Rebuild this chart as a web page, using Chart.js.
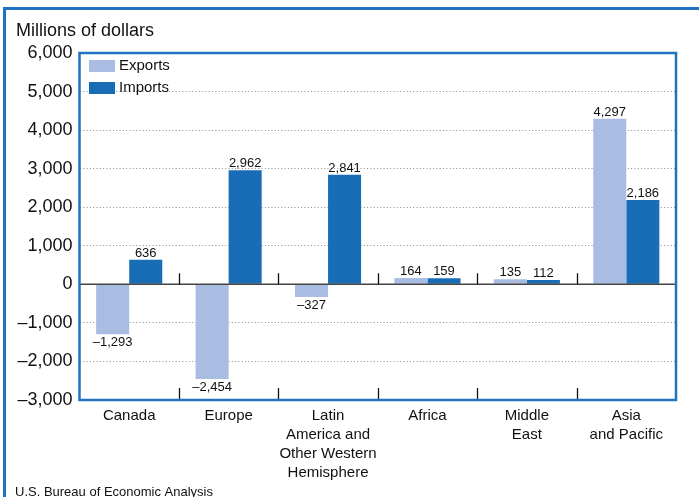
<!DOCTYPE html>
<html>
<head>
<meta charset="utf-8">
<script src="https://cdn.jsdelivr.net/npm/chart.js@4.4.0/dist/chart.umd.min.js"></script>
<style>
  html, body { margin: 0; padding: 0; background: #fff; }
  #wrap { width: 699px; height: 497px; position: relative; }
</style>
</head>
<body>
<div id="wrap"><canvas id="chart"></canvas></div>
<script>
// datos
const categories = [
  ['Canada'],
  ['Europe'],
  ['Latin', 'America and', 'Other Western', 'Hemisphere'],
  ['Africa'],
  ['Middle', 'East'],
  ['Asia', 'and Pacific']
];
const exportsValues = [-1293, -2454, -327, 164, 135, 4297];
const importsValues = [636, 2962, 2841, 159, 112, 2186];
const yMin = -3000;
const yMax = 6000;
const yStep = 1000;

const FONT = '"Liberation Sans", Arial, Helvetica, sans-serif';
const frameBlue = '#1f73c0';
const exportsColor = '#a9bde3';
const importsColor = '#186db6';

function fmt(v) {
  const s = Math.abs(v).toLocaleString('en-US');
  return v < 0 ? '\u2013' + s : s;
}

// marco, títulos, etiquetas y leyenda
const decorations = {
  id: 'decorations',
  beforeDraw(chart) {
    const ctx = chart.ctx;
    ctx.save();
    ctx.fillStyle = '#fff';
    ctx.fillRect(0, 0, chart.width, chart.height);
    ctx.strokeStyle = frameBlue;
    ctx.lineWidth = 3;
    ctx.beginPath();
    ctx.moveTo(4.5, chart.height);
    ctx.lineTo(4.5, 8.5);
    ctx.lineTo(chart.width, 8.5);
    ctx.stroke();
    ctx.fillStyle = '#111';
    ctx.font = '18px ' + FONT;
    ctx.textBaseline = 'alphabetic';
    ctx.fillText('Millions of dollars', 16, 36);
    ctx.font = '13px ' + FONT;
    ctx.fillText('U.S. Bureau of Economic Analysis', 15, 496);
    ctx.restore();
  },
  afterDatasetsDraw(chart) {
    const ctx = chart.ctx;
    const area = chart.chartArea;
    const x = chart.scales.x;
    const y = chart.scales.y;
    const y0 = y.getPixelForValue(0);
    ctx.save();

    // línea cero
    ctx.strokeStyle = '#444';
    ctx.lineWidth = 1.5;
    ctx.beginPath();
    ctx.moveTo(area.left, y0);
    ctx.lineTo(area.right, y0);
    ctx.stroke();

    // marcas entre categorías
    ctx.strokeStyle = '#111';
    ctx.lineWidth = 1.3;
    for (let i = 0; i < categories.length - 1; i++) {
      const bx = Math.round((x.getPixelForValue(i) + x.getPixelForValue(i + 1)) / 2) + 0.5;
      ctx.beginPath();
      ctx.moveTo(bx, y0);
      ctx.lineTo(bx, y0 - 11);
      ctx.moveTo(bx, area.bottom);
      ctx.lineTo(bx, area.bottom - 12);
      ctx.stroke();
    }

    // borde del área
    ctx.strokeStyle = frameBlue;
    ctx.lineWidth = 2.5;
    ctx.strokeRect(area.left, area.top, area.right - area.left, area.bottom - area.top);

    // valores sobre las barras
    ctx.fillStyle = '#111';
    ctx.font = '13px ' + FONT;
    ctx.textAlign = 'center';
    chart.data.datasets.forEach((ds, di) => {
      chart.getDatasetMeta(di).data.forEach((bar, i) => {
        const v = ds.data[i];
        if (v >= 0) {
          ctx.textBaseline = 'alphabetic';
          ctx.fillText(fmt(v), bar.x, bar.y - 3);
        } else {
          ctx.textBaseline = 'top';
          ctx.fillText(fmt(v), bar.x, bar.y + 2);
        }
      });
    });

    // leyenda
    ctx.textAlign = 'left';
    ctx.textBaseline = 'middle';
    ctx.font = '15px ' + FONT;
    chart.data.datasets.forEach((ds, di) => {
      const ly = 60 + di * 22;
      ctx.fillStyle = ds.backgroundColor;
      ctx.fillRect(89, ly, 26, 12);
      ctx.fillStyle = '#111';
      ctx.fillText(ds.label, 119, ly + 6);
    });

    ctx.restore();
  }
};

new Chart(document.getElementById('chart'), {
  type: 'bar',
  data: {
    labels: categories,
    datasets: [
      {
        label: 'Exports',
        data: exportsValues,
        backgroundColor: exportsColor,
        borderWidth: 0,
        categoryPercentage: 0.665,
        barPercentage: 1.0
      },
      {
        label: 'Imports',
        data: importsValues,
        backgroundColor: importsColor,
        borderWidth: 0,
        categoryPercentage: 0.665,
        barPercentage: 1.0
      }
    ]
  },
  options: {
    responsive: true,
    maintainAspectRatio: false,
    animation: false,
    layout: {
      padding: { left: 0, right: 23, top: 53, bottom: 0 }
    },
    plugins: {
      legend: { display: false },
      tooltip: { enabled: false }
    },
    scales: {
      x: {
        grid: { display: false },
        border: { display: false },
        ticks: {
          color: '#111',
          padding: -2,
          maxRotation: 0,
          autoSkip: false,
          font: { family: FONT, size: 15, lineHeight: 1.27 }
        },
        afterFit(scale) { scale.height = 97; }
      },
      y: {
        min: yMin,
        max: yMax,
        border: { display: false, dash: [1, 2.3] },
        grid: {
          drawTicks: false,
          lineWidth: 1,
          color: ctx => {
            const v = ctx.tick.value;
            return (v === 0 || v === yMin || v === yMax) ? 'rgba(0,0,0,0)' : '#8a8a8a';
          }
        },
        ticks: {
          stepSize: yStep,
          color: '#111',
          padding: 7,
          font: { family: FONT, size: 18 },
          callback: value => fmt(value)
        },
        afterFit(scale) { scale.width = 79.5; }
      }
    }
  },
  plugins: [decorations]
});
</script>
</body>
</html>
